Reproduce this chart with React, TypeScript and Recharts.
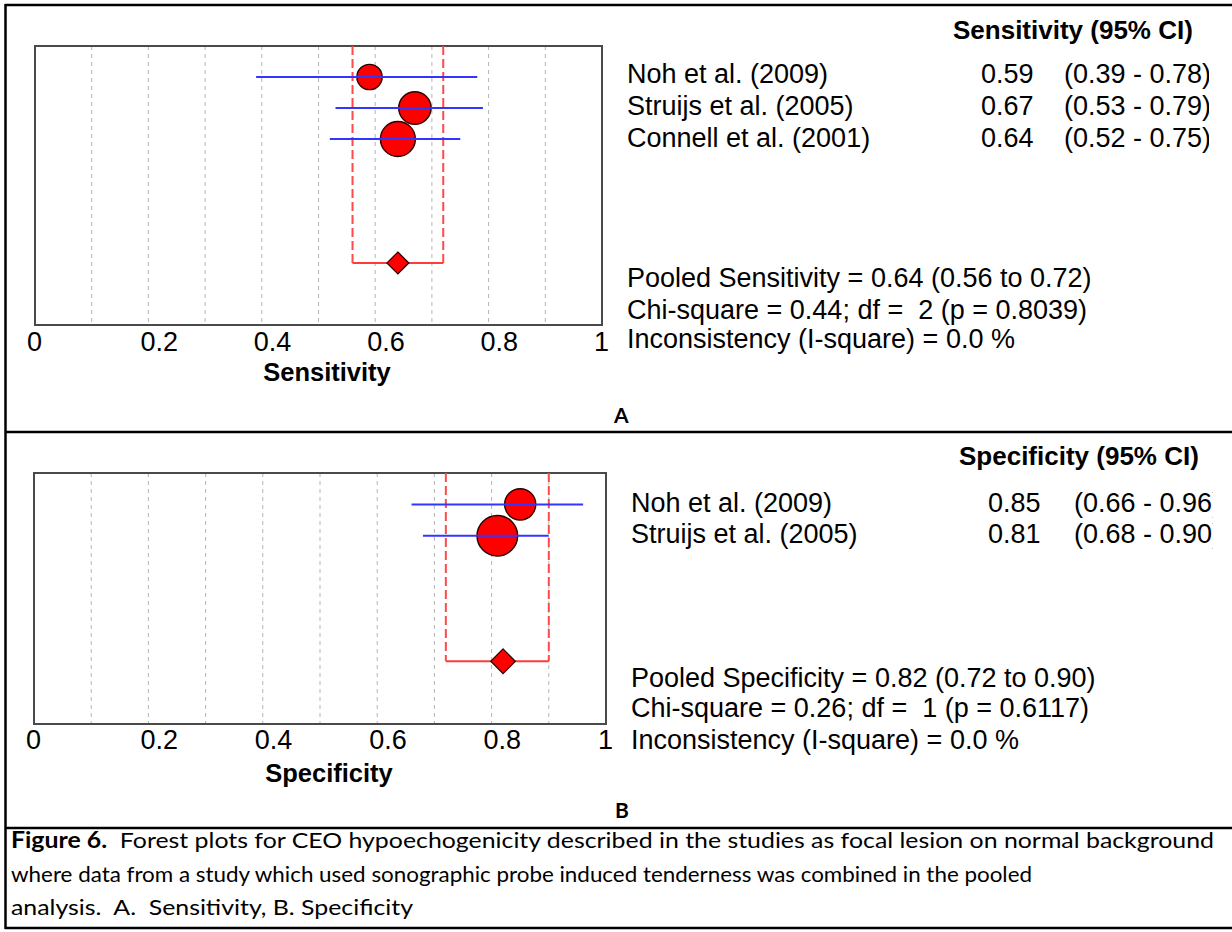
import React from "react";
import {
  ComposedChart,
  Scatter,
  XAxis,
  YAxis,
  CartesianGrid,
  ReferenceArea,
} from "recharts";

// ---- panel A: sensitivity ----
const sensStudies = ["Noh et al. (2009)", "Struijs et al. (2005)", "Connell et al. (2001)"];
const sensEstimate = [0.59, 0.67, 0.64];
const sensLower = [0.39, 0.53, 0.52];
const sensUpper = [0.78, 0.79, 0.75];
const sensWeight = [22, 36, 42];
const sensPooled = [0.64, 0.56, 0.72];
const sensChi = "Chi-square = 0.44; df =  2 (p = 0.8039)";
const sensIsq = "Inconsistency (I-square) = 0.0 %";

// ---- panel B: specificity ----
const specStudies = ["Noh et al. (2009)", "Struijs et al. (2005)"];
const specEstimate = [0.85, 0.81];
const specLower = [0.66, 0.68];
const specUpper = [0.96, 0.9];
const specWeight = [37, 63];
const specPooled = [0.82, 0.72, 0.9];
const specChi = "Chi-square = 0.26; df =  1 (p = 0.6117)";
const specIsq = "Inconsistency (I-square) = 0.0 %";

const gridTicks = [0, 0.1, 0.2, 0.3, 0.4, 0.5, 0.6, 0.7, 0.8, 0.9, 1];
const tickLabels = [0, 0.2, 0.4, 0.6, 0.8, 1];

const captionLines = [
  "Forest plots for CEO hypoechogenicity described in the studies as focal lesion on normal background",
  "where data from a study which used sonographic probe induced tenderness was combined in the pooled",
  "analysis.  A.  Sensitivity, B. Specificity",
];

const FONT = "'Liberation Sans', Arial, sans-serif";
const CAPFONT = "Lato, 'Open Sans', sans-serif";
const BLUE = "#3434ff";
const RED = "#ff0000";
const PINK = "#ff4a4a";

function makeTick(dyBase: number) {
  return (props: any) => {
    const { x, y, payload } = props;
    if (!tickLabels.includes(payload.value)) return <g />;
    return (
      <text x={x - 8} y={y + dyBase} fontSize={27} fontFamily={FONT} fill="#000" textAnchor="start">
        {String(payload.value)}
      </text>
    );
  };
}

function Forest(props: any) {
  const { top, width, height, margin, axisHeight, yMax, studies, est, lo, hi, weight, pooled, pooledRow, rScale, dHalf, tickDy } = props;
  const points = studies.map((s: string, i: number) => ({ x: est[i], y: i + 1, w: weight[i] }));

  const circle = (p: any) => (
    <circle cx={p.cx} cy={p.cy} r={rScale * Math.sqrt(p.payload.w)} fill={RED} stroke="#2a0000" strokeWidth={1.4} />
  );
  const diamond = (p: any) => (
    <polygon
      points={`${p.cx},${p.cy - dHalf} ${p.cx + dHalf},${p.cy} ${p.cx},${p.cy + dHalf} ${p.cx - dHalf},${p.cy}`}
      fill={RED}
      stroke="#2a0000"
      strokeWidth={1.2}
    />
  );
  const none = () => <g />;

  return (
    <div style={{ position: "absolute", left: 0, top }}>
      <ComposedChart width={width} height={height} margin={margin}>
        <CartesianGrid horizontal={false} stroke="#b4b4b4" strokeDasharray="4 4" />
        <XAxis
          type="number"
          dataKey="x"
          domain={[0, 1]}
          ticks={gridTicks}
          interval={0}
          axisLine={false}
          tickLine={false}
          tickSize={0}
          tickMargin={0}
          height={axisHeight}
          tick={makeTick(tickDy)}
        />
        <YAxis type="number" dataKey="y" domain={[0, yMax]} reversed hide width={0} />
        <ReferenceArea x1={0} x2={1} y1={0} y2={yMax} fill="none" fillOpacity={0} stroke="#4a4a4a" strokeWidth={2} />
        {/* pooled CI bracket */}
        <Scatter
          data={[{ x: pooled[1], y: 0 }, { x: pooled[1], y: pooledRow }]}
          shape={none}
          line={{ stroke: PINK, strokeWidth: 2, strokeDasharray: "9 4" }}
          isAnimationActive={false}
        />
        <Scatter
          data={[{ x: pooled[2], y: 0 }, { x: pooled[2], y: pooledRow }]}
          shape={none}
          line={{ stroke: PINK, strokeWidth: 2, strokeDasharray: "9 4" }}
          isAnimationActive={false}
        />
        <Scatter
          data={[{ x: pooled[1], y: pooledRow }, { x: pooled[2], y: pooledRow }]}
          shape={none}
          line={{ stroke: "#ff3b3b", strokeWidth: 2 }}
          isAnimationActive={false}
        />
        <Scatter data={points} shape={circle} isAnimationActive={false} />
        {studies.map((s: string, i: number) => (
          <Scatter
            key={s}
            data={[{ x: lo[i], y: i + 1 }, { x: hi[i], y: i + 1 }]}
            shape={none}
            line={{ stroke: BLUE, strokeWidth: 2 }}
            isAnimationActive={false}
          />
        ))}
        <Scatter data={[{ x: pooled[0], y: pooledRow }]} shape={diamond} isAnimationActive={false} />
      </ComposedChart>
    </div>
  );
}

function Table(props: any) {
  const { clipId, clipX, header, headerX, headerY, nameX, valX, ciX, rowsY, studies, est, lo, hi, stats, statsY, letter, letterX, letterY, axisTitle, axisX, axisY } = props;
  const t = { fontFamily: FONT, fontSize: 27, fill: "#000" } as any;
  return (
    <g>
      <defs>
        <clipPath id={clipId}>
          <rect x={0} y={0} width={clipX} height={932} />
        </clipPath>
      </defs>
      <text x={headerX} y={headerY} fontFamily={FONT} fontSize={26} fontWeight="bold" fill="#000">
        {header}
      </text>
      {studies.map((s: string, i: number) => (
        <g key={s} clipPath={`url(#${clipId})`}>
          <text x={nameX} y={rowsY[i]} {...t}>{s}</text>
          <text x={valX} y={rowsY[i]} {...t}>{est[i].toFixed(2)}</text>
          <text x={ciX} y={rowsY[i]} {...t}>{`(${lo[i].toFixed(2)} - ${hi[i].toFixed(2)})`}</text>
        </g>
      ))}
      {stats.map((s: string, i: number) => (
        <text key={i} x={nameX} y={statsY[i]} {...t} style={{ whiteSpace: "pre" }}>
          {s}
        </text>
      ))}
      <text x={axisX} y={axisY} fontFamily={FONT} fontSize={25.5} fontWeight="bold" fill="#000" textAnchor="middle">
        {axisTitle}
      </text>
      <text x={letterX} y={letterY} fontFamily={CAPFONT} fontSize={21} fontWeight="bold" fill="#000">
        {letter}
      </text>
    </g>
  );
}

export default function App() {
  const pooledA = `Pooled Sensitivity = ${sensPooled[0].toFixed(2)} (${sensPooled[1].toFixed(2)} to ${sensPooled[2].toFixed(2)})`;
  const pooledB = `Pooled Specificity = ${specPooled[0].toFixed(2)} (${specPooled[1].toFixed(2)} to ${specPooled[2].toFixed(2)})`;

  return (
    <div style={{ position: "absolute", left: 0, top: 0, width: 1232, height: 932, background: "#fff", overflow: "hidden" }}>
      <Forest
        top={0}
        width={640}
        height={400}
        margin={{ top: 46, left: 35, right: 38, bottom: 0 }}
        axisHeight={75}
        yMax={9}
        studies={sensStudies}
        est={sensEstimate}
        lo={sensLower}
        hi={sensUpper}
        weight={sensWeight}
        pooled={sensPooled}
        pooledRow={7}
        rScale={2.7}
        dHalf={11}
        tickDy={26}
      />
      <Forest
        top={430}
        width={640}
        height={400}
        margin={{ top: 43, left: 34, right: 34, bottom: 0 }}
        axisHeight={106}
        yMax={8}
        studies={specStudies}
        est={specEstimate}
        lo={specLower}
        hi={specUpper}
        weight={specWeight}
        pooled={specPooled}
        pooledRow={6}
        rScale={2.56}
        dHalf={12.3}
        tickDy={25}
      />
      <svg width={1232} height={932} style={{ position: "absolute", left: 0, top: 0, pointerEvents: "none" }}>
        {/* frame */}
        <line x1={5} y1={5} x2={1232} y2={5} stroke="#000" strokeWidth={2.5} />
        <line x1={5} y1={432} x2={1232} y2={432} stroke="#000" strokeWidth={2.5} />
        <line x1={5} y1={828} x2={1232} y2={828} stroke="#000" strokeWidth={2.5} />
        <line x1={5} y1={928} x2={1232} y2={928} stroke="#000" strokeWidth={2.5} />
        <line x1={5.5} y1={4} x2={5.5} y2={929} stroke="#000" strokeWidth={2.5} />

        <Table
          clipId="clipA"
          clipX={1209}
          header="Sensitivity (95% CI)"
          headerX={953}
          headerY={39}
          nameX={627}
          valX={981}
          ciX={1064}
          rowsY={[83, 115, 147]}
          studies={sensStudies}
          est={sensEstimate}
          lo={sensLower}
          hi={sensUpper}
          stats={[pooledA, sensChi, sensIsq]}
          statsY={[287, 319, 348]}
          letter="A"
          letterX={614}
          letterY={423}
          axisTitle="Sensitivity"
          axisX={327}
          axisY={381}
        />
        <Table
          clipId="clipB"
          clipX={1212.5}
          header="Specificity (95% CI)"
          headerX={959}
          headerY={465}
          nameX={631}
          valX={988}
          ciX={1074}
          rowsY={[512, 543]}
          studies={specStudies}
          est={specEstimate}
          lo={specLower}
          hi={specUpper}
          stats={[pooledB, specChi, specIsq]}
          statsY={[687, 717, 749]}
          letter="B"
          letterX={615}
          letterY={818}
          axisTitle="Specificity"
          axisX={329}
          axisY={782}
        />

        {/* caption */}
        <g fontFamily={CAPFONT} fontSize={22} fill="#000">
          <text x={11} y={848} textLength={1203} lengthAdjust="spacingAndGlyphs" style={{ whiteSpace: "pre" }}>
            <tspan fontWeight="bold">Figure 6.</tspan>
            <tspan>{"  " + captionLines[0]}</tspan>
          </text>
          <text x={11} y={882} textLength={1021} lengthAdjust="spacingAndGlyphs">
            {captionLines[1]}
          </text>
          <text x={11} y={915} textLength={402} lengthAdjust="spacingAndGlyphs" style={{ whiteSpace: "pre" }}>
            {captionLines[2]}
          </text>
        </g>
      </svg>
    </div>
  );
}
